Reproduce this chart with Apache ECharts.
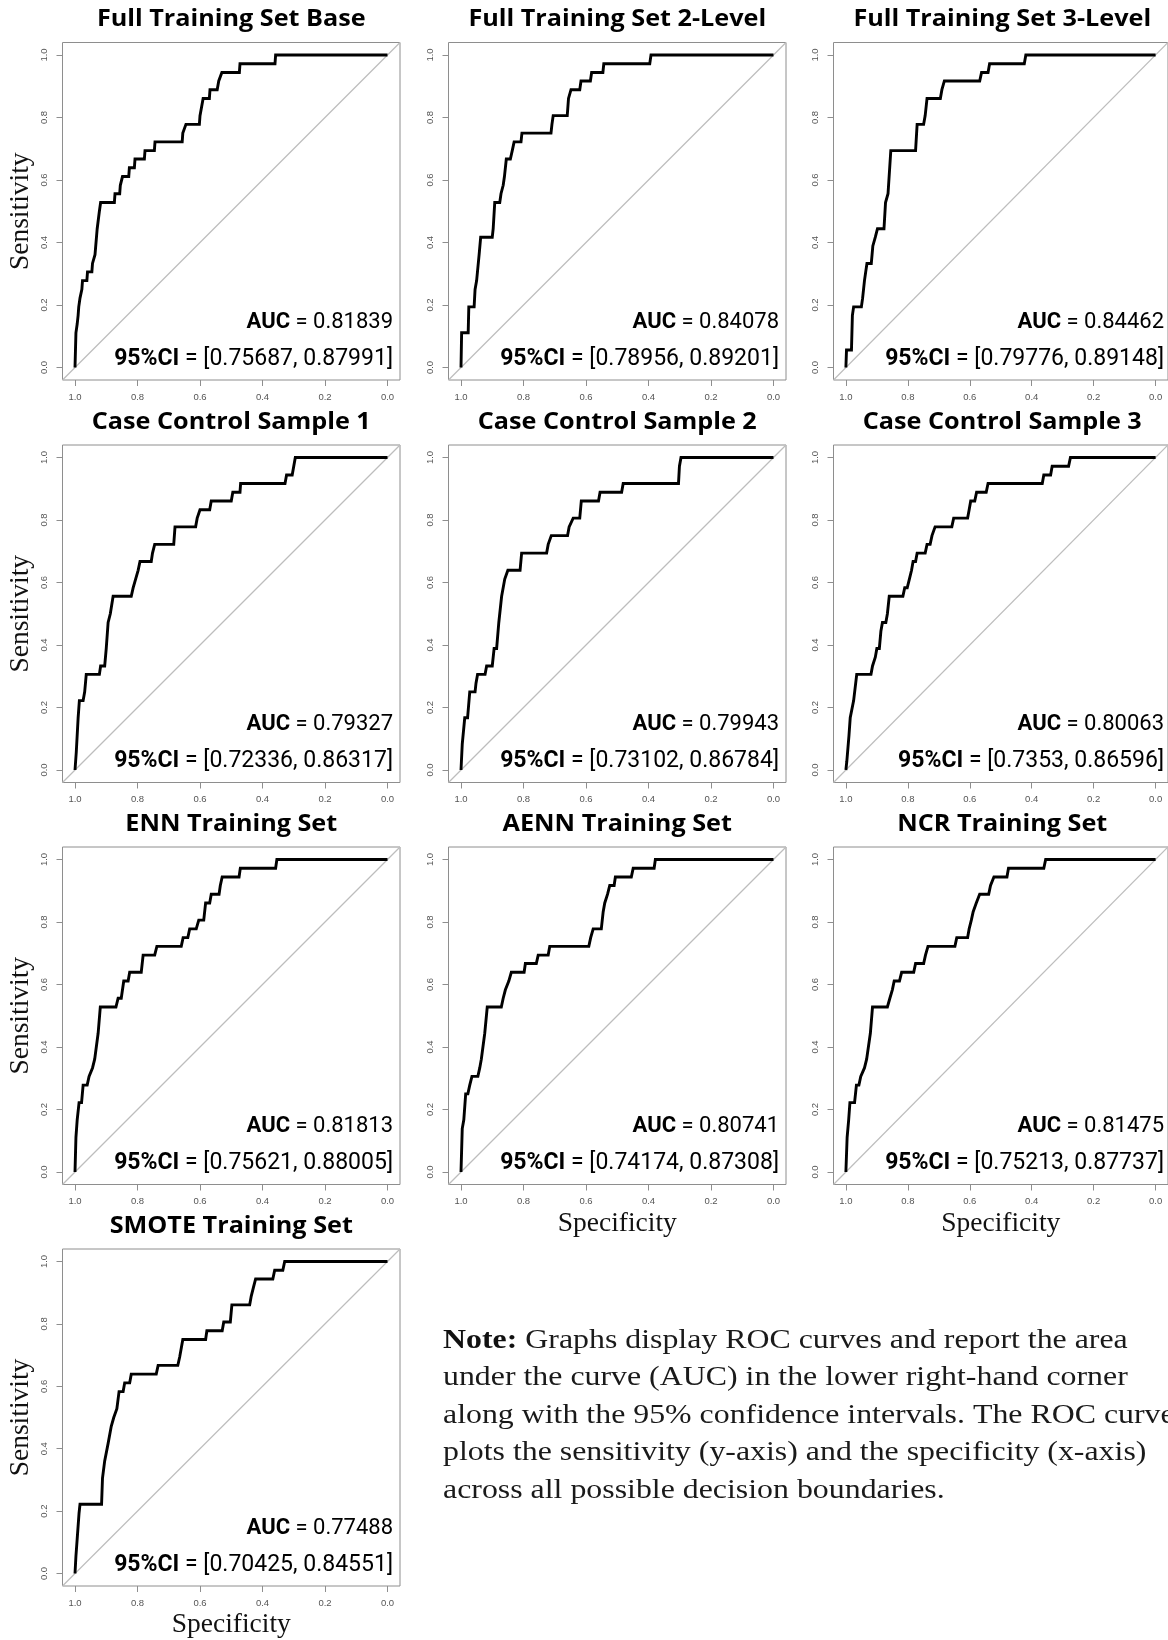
<!DOCTYPE html>
<html><head><meta charset="utf-8">
<script src="https://cdn.jsdelivr.net/npm/echarts@6/dist/echarts.min.js"></script>
<style>html,body{margin:0;padding:0;background:#fff}#c{width:1168px;height:1640px}</style>
</head><body><div id="c"></div>
<script>
// ---------- data ----------
const panelTitles = ['Full Training Set Base','Full Training Set 2-Level','Full Training Set 3-Level',
  'Case Control Sample 1','Case Control Sample 2','Case Control Sample 3',
  'ENN Training Set','AENN Training Set','NCR Training Set','SMOTE Training Set'];
const aucValues = ['0.81839','0.84078','0.84462','0.79327','0.79943','0.80063','0.81813','0.80741','0.81475','0.77488'];
const ciLower = ['0.75687','0.78956','0.79776','0.72336','0.73102','0.7353','0.75621','0.74174','0.75213','0.70425'];
const ciUpper = ['0.87991','0.89201','0.89148','0.86317','0.86784','0.86596','0.88005','0.87308','0.87737','0.84551'];
const tickValues = [0, 0.2, 0.4, 0.6, 0.8, 1.0];
const chanceSpec = [1.04, -0.04];
const chanceSens = [-0.04, 1.04];

// ROC curves: [specificity, sensitivity]
const rocFullBase = [[1,0],[0.997,0],[0.997,0.111],[0.993,0.139],[0.990,0.167],[0.988,0.194],[0.984,0.222],[0.978,0.25],[0.976,0.278],[0.962,0.278],[0.960,0.306],[0.946,0.306],[0.944,0.333],[0.938,0.333],[0.936,0.361],[0.931,0.361],[0.929,0.444],[0.925,0.444],[0.922,0.5],[0.918,0.528],[0.874,0.528],[0.872,0.556],[0.857,0.556],[0.855,0.583],[0.848,0.611],[0.828,0.611],[0.826,0.639],[0.810,0.639],[0.808,0.667],[0.778,0.667],[0.776,0.694],[0.746,0.694],[0.744,0.722],[0.657,0.722],[0.655,0.75],[0.645,0.778],[0.602,0.778],[0.600,0.806],[0.590,0.861],[0.570,0.861],[0.568,0.889],[0.545,0.889],[0.540,0.917],[0.530,0.944],[0.474,0.944],[0.472,0.972],[0.360,0.972],[0.358,1],[0,1]];
const rocFull2Level = [[1,0],[0.998,0],[0.998,0.111],[0.977,0.111],[0.975,0.194],[0.958,0.194],[0.955,0.25],[0.950,0.278],[0.942,0.361],[0.937,0.417],[0.900,0.417],[0.897,0.444],[0.892,0.528],[0.876,0.528],[0.872,0.556],[0.865,0.583],[0.861,0.611],[0.855,0.667],[0.842,0.667],[0.836,0.694],[0.830,0.722],[0.808,0.722],[0.805,0.75],[0.712,0.75],[0.709,0.778],[0.705,0.806],[0.660,0.806],[0.656,0.861],[0.648,0.889],[0.620,0.889],[0.616,0.917],[0.586,0.917],[0.582,0.944],[0.546,0.944],[0.543,0.972],[0.396,0.972],[0.392,1],[0,1]];
const rocFull3Level = [[1,0],[0.998,0],[0.998,0.056],[0.982,0.056],[0.979,0.167],[0.975,0.194],[0.950,0.194],[0.946,0.222],[0.940,0.278],[0.936,0.306],[0.932,0.333],[0.918,0.333],[0.913,0.389],[0.905,0.417],[0.898,0.444],[0.877,0.444],[0.872,0.528],[0.864,0.556],[0.855,0.694],[0.775,0.694],[0.770,0.778],[0.749,0.778],[0.744,0.806],[0.738,0.861],[0.695,0.861],[0.690,0.889],[0.682,0.917],[0.568,0.917],[0.562,0.944],[0.541,0.944],[0.536,0.972],[0.424,0.972],[0.419,1],[0,1]];
const rocCaseControl1 = [[1,0],[0.997,0],[0.996,0.056],[0.990,0.167],[0.986,0.222],[0.974,0.222],[0.969,0.25],[0.964,0.306],[0.922,0.306],[0.918,0.333],[0.905,0.333],[0.900,0.389],[0.894,0.472],[0.887,0.5],[0.878,0.556],[0.820,0.556],[0.814,0.583],[0.806,0.611],[0.798,0.639],[0.792,0.667],[0.756,0.667],[0.752,0.694],[0.745,0.722],[0.684,0.722],[0.680,0.778],[0.614,0.778],[0.609,0.806],[0.600,0.833],[0.569,0.833],[0.564,0.861],[0.500,0.861],[0.495,0.889],[0.472,0.889],[0.470,0.917],[0.328,0.917],[0.323,0.944],[0.305,0.944],[0.300,0.972],[0.295,1],[0,1]];
const rocCaseControl2 = [[1,0],[0.997,0],[0.996,0.083],[0.988,0.167],[0.979,0.167],[0.972,0.25],[0.955,0.25],[0.952,0.278],[0.947,0.306],[0.923,0.306],[0.918,0.333],[0.900,0.333],[0.894,0.389],[0.886,0.389],[0.879,0.472],[0.870,0.556],[0.860,0.611],[0.850,0.639],[0.811,0.639],[0.806,0.694],[0.726,0.694],[0.721,0.722],[0.711,0.75],[0.659,0.75],[0.654,0.778],[0.641,0.806],[0.620,0.806],[0.615,0.861],[0.560,0.861],[0.555,0.889],[0.486,0.889],[0.481,0.917],[0.304,0.917],[0.301,0.972],[0.296,1],[0,1]];
const rocCaseControl3 = [[1,0],[0.998,0],[0.997,0.028],[0.990,0.111],[0.986,0.167],[0.980,0.167],[0.975,0.222],[0.969,0.222],[0.965,0.306],[0.919,0.306],[0.914,0.333],[0.905,0.361],[0.900,0.389],[0.892,0.389],[0.887,0.444],[0.882,0.472],[0.871,0.472],[0.866,0.5],[0.860,0.556],[0.816,0.556],[0.810,0.583],[0.802,0.583],[0.795,0.611],[0.788,0.639],[0.783,0.667],[0.775,0.667],[0.770,0.694],[0.744,0.694],[0.738,0.722],[0.728,0.722],[0.722,0.75],[0.712,0.778],[0.658,0.778],[0.652,0.806],[0.607,0.806],[0.602,0.833],[0.597,0.861],[0.584,0.861],[0.578,0.889],[0.547,0.889],[0.541,0.917],[0.366,0.917],[0.361,0.944],[0.339,0.944],[0.334,0.972],[0.281,0.972],[0.275,1],[0,1]];
const rocENN = [[1,0],[0.997,0],[0.997,0.111],[0.993,0.167],[0.987,0.222],[0.979,0.222],[0.974,0.278],[0.961,0.278],[0.955,0.306],[0.950,0.306],[0.944,0.333],[0.937,0.361],[0.931,0.361],[0.926,0.444],[0.919,0.528],[0.869,0.528],[0.862,0.556],[0.852,0.556],[0.844,0.611],[0.830,0.611],[0.825,0.639],[0.788,0.639],[0.782,0.694],[0.745,0.694],[0.738,0.722],[0.660,0.722],[0.654,0.75],[0.639,0.75],[0.633,0.778],[0.612,0.778],[0.604,0.806],[0.588,0.806],[0.582,0.861],[0.569,0.861],[0.564,0.889],[0.539,0.889],[0.535,0.917],[0.529,0.944],[0.475,0.944],[0.471,0.972],[0.358,0.972],[0.354,1],[0,1]];
const rocAENN = [[1,0],[0.997,0],[0.996,0.139],[0.991,0.167],[0.985,0.25],[0.978,0.25],[0.972,0.278],[0.965,0.306],[0.946,0.306],[0.940,0.333],[0.935,0.361],[0.929,0.361],[0.924,0.444],[0.916,0.528],[0.871,0.528],[0.865,0.556],[0.858,0.583],[0.847,0.611],[0.839,0.639],[0.798,0.639],[0.794,0.667],[0.759,0.667],[0.753,0.694],[0.721,0.694],[0.716,0.722],[0.591,0.722],[0.585,0.75],[0.577,0.778],[0.551,0.778],[0.545,0.833],[0.540,0.861],[0.531,0.889],[0.524,0.917],[0.510,0.917],[0.506,0.944],[0.455,0.944],[0.449,0.972],[0.382,0.972],[0.378,1],[0,1]];
const rocNCR = [[1,0],[0.998,0],[0.996,0.111],[0.991,0.167],[0.987,0.222],[0.972,0.222],[0.966,0.278],[0.958,0.278],[0.952,0.306],[0.946,0.306],[0.940,0.333],[0.933,0.361],[0.927,0.361],[0.921,0.444],[0.914,0.528],[0.866,0.528],[0.858,0.556],[0.850,0.583],[0.844,0.611],[0.827,0.611],[0.820,0.639],[0.781,0.639],[0.775,0.667],[0.749,0.667],[0.743,0.694],[0.735,0.722],[0.648,0.722],[0.642,0.75],[0.607,0.75],[0.602,0.778],[0.595,0.806],[0.589,0.833],[0.579,0.861],[0.568,0.889],[0.539,0.889],[0.533,0.917],[0.522,0.944],[0.480,0.944],[0.475,0.972],[0.361,0.972],[0.355,1],[0,1]];
const rocSMOTE = [[1,0],[0.998,0],[0.997,0.056],[0.993,0.111],[0.987,0.194],[0.984,0.222],[0.915,0.222],[0.912,0.306],[0.905,0.361],[0.894,0.417],[0.889,0.417],[0.884,0.472],[0.876,0.5],[0.870,0.5],[0.866,0.528],[0.859,0.583],[0.846,0.583],[0.841,0.611],[0.825,0.611],[0.820,0.639],[0.740,0.639],[0.734,0.667],[0.671,0.667],[0.665,0.694],[0.660,0.722],[0.655,0.75],[0.582,0.75],[0.578,0.778],[0.529,0.778],[0.524,0.806],[0.503,0.806],[0.498,0.861],[0.441,0.861],[0.436,0.889],[0.429,0.917],[0.422,0.944],[0.367,0.944],[0.361,0.972],[0.335,0.972],[0.329,1],[0,1]];
const rocCurves = [rocFullBase, rocFull2Level, rocFull3Level, rocCaseControl1, rocCaseControl2, rocCaseControl3, rocENN, rocAENN, rocNCR, rocSMOTE];

const noteLines = [
  'Graphs display ROC curves and report the area',
  'under the curve (AUC) in the lower right-hand corner',
  'along with the 95% confidence intervals. The ROC curve',
  'plots the sensitivity (y-axis) and the specificity (x-axis)',
  'across all possible decision boundaries.'
];

// ---------- layout ----------
const boxLeft = [62.5, 448.5, 833.5];
const boxTop = [42.5, 445, 847, 1249];
const boxSize = 337.5;
const frameColor = '#8e8e8e';
const serif = '"Liberation Serif", "DejaVu Serif", serif';
const sansBold = '"Open Sans", Roboto, sans-serif';
const sansCond = 'Roboto, "Open Sans", sans-serif';
const tickFont = '"Liberation Sans", Arial, sans-serif';
const yNamePanels = [0, 3, 6, 9];
const xNamePanels = [7, 8, 9];

const grids = [], xAxes = [], yAxes = [], series = [], graphics = [];
rocCurves.forEach((roc, i) => {
  const c = i % 3, r = Math.floor(i / 3);
  const L = boxLeft[c], T = boxTop[r];
  grids.push({left: L, top: T, width: boxSize, height: boxSize, show: true,
    borderColor: frameColor, borderWidth: 1, backgroundColor: 'transparent'});
  xAxes.push({gridIndex: i, type: 'value', min: -0.04, max: 1.04, inverse: true,
    axisLine: {show: false, onZero: false}, splitLine: {show: false},
    axisTick: {show: true, length: 6, lineStyle: {color: frameColor}, customValues: tickValues},
    axisLabel: {customValues: tickValues, formatter: v => v.toFixed(1), fontSize: 9.5,
      color: '#555', margin: 12, fontFamily: tickFont},
    name: xNamePanels.includes(i) ? 'Specificity' : '', nameLocation: 'middle', nameGap: 25,
    nameTextStyle: {fontFamily: serif, fontSize: 27.5, color: '#111'}});
  yAxes.push({gridIndex: i, type: 'value', min: -0.04, max: 1.04,
    axisLine: {show: false, onZero: false}, splitLine: {show: false},
    axisTick: {show: true, length: 6, lineStyle: {color: frameColor}, customValues: tickValues},
    axisLabel: {customValues: tickValues, formatter: v => v.toFixed(1), fontSize: 9.5, rotate: 90,
      color: '#555', margin: 13, fontFamily: tickFont},
    name: yNamePanels.includes(i) ? 'Sensitivity' : '', nameLocation: 'middle', nameGap: 28, nameRotate: 90,
    nameTextStyle: {fontFamily: serif, fontSize: 27.5, color: '#111'}});
  series.push({type: 'line', xAxisIndex: i, yAxisIndex: i, silent: true, symbol: 'none', z: 1,
    data: chanceSpec.map((s, k) => [s, chanceSens[k]]),
    lineStyle: {color: '#bdbdbd', width: 1.2}});
  series.push({type: 'line', xAxisIndex: i, yAxisIndex: i, silent: true, symbol: 'none', z: 2,
    data: roc, lineStyle: {color: '#000', width: 2.9, join: 'miter'}});
  // title
  graphics.push({type: 'text', x: L + boxSize / 2, y: T - 23, scaleX: 1.05, silent: true,
    style: {text: panelTitles[i], fill: '#000', fontFamily: sansBold, fontWeight: 'bold', fontSize: 24,
      align: 'center', textAlign: 'center', verticalAlign: 'middle', textVerticalAlign: 'middle'}});
  // AUC lines
  graphics.push({type: 'text', x: L + boxSize - 7, y: T + boxSize - 58, silent: true,
    style: {text: '{b|AUC} = ' + aucValues[i], fill: '#000', fontFamily: sansCond, fontSize: 22,
      align: 'right', textAlign: 'right', verticalAlign: 'middle', textVerticalAlign: 'middle',
      rich: {b: {fontWeight: 'bold', fontFamily: sansCond, fontSize: 22, fill: '#000'}}}});
  graphics.push({type: 'text', x: L + boxSize - 7, y: T + boxSize - 21, silent: true,
    style: {text: '{b|95%CI} = [' + ciLower[i] + ', ' + ciUpper[i] + ']', fill: '#000', fontFamily: sansCond, fontSize: 23,
      align: 'right', textAlign: 'right', verticalAlign: 'middle', textVerticalAlign: 'middle',
      rich: {b: {fontWeight: 'bold', fontFamily: sansCond, fontSize: 23, fill: '#000'}}}});
});

// note
graphics.push({type: 'text', x: 443, y: 1322, scaleX: 1.18, silent: true,
  style: {text: '{b|Note:} ' + noteLines[0] + '\n' + noteLines.slice(1).join('\n'),
    fill: '#1a1a1a', fontFamily: serif, fontSize: 27, lineHeight: 37.5,
    align: 'left', textAlign: 'left', verticalAlign: 'top', textVerticalAlign: 'top',
    rich: {b: {fontWeight: 'bold', fontFamily: serif, fontSize: 27, lineHeight: 37.5, fill: '#111'}}}});

const chart = echarts.init(document.getElementById('c'), null, {renderer: 'canvas'});
chart.setOption({animation: false, backgroundColor: '#fff', grid: grids, xAxis: xAxes, yAxis: yAxes,
  series: series, graphic: {elements: graphics}});
</script></body></html>
